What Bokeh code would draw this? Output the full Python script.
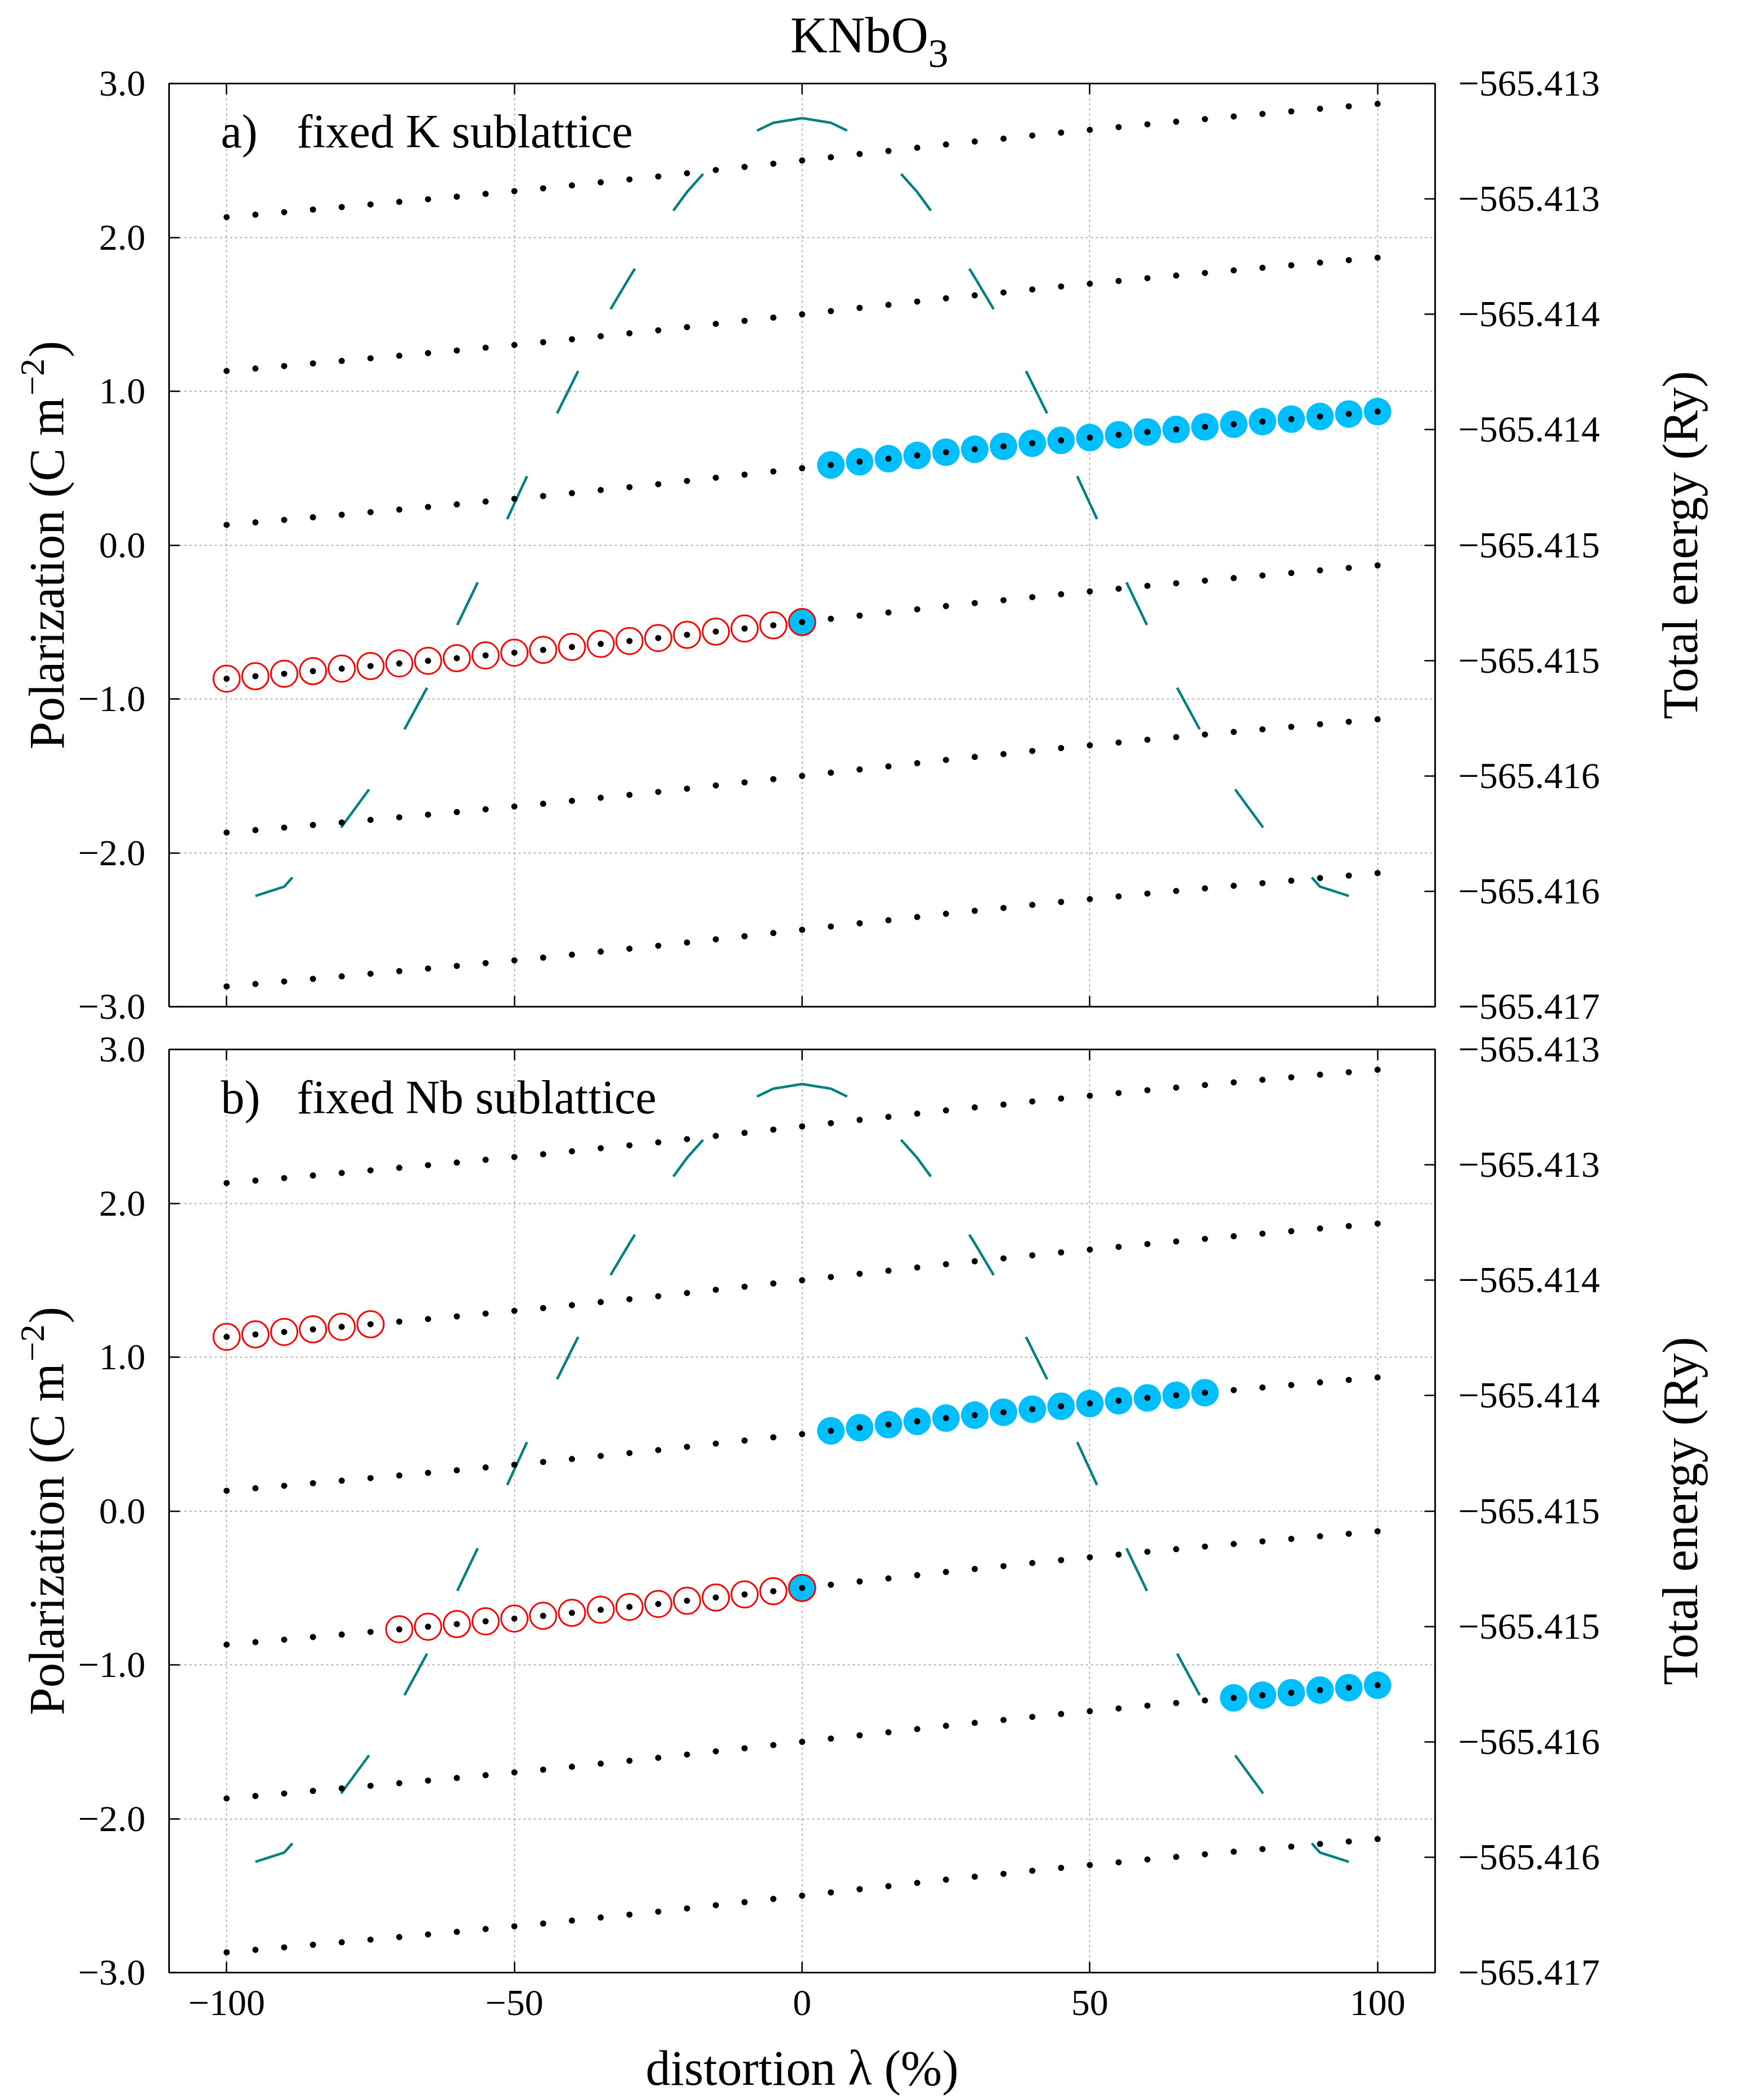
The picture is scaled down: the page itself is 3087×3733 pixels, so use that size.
import math

from bokeh.embed import file_html
from bokeh.layouts import column, row
from bokeh.models import FixedTicker, Grid, Label, LinearAxis, Range1d
from bokeh.plotting import figure
from bokeh.resources import INLINE

# ---------------------------------------------------------------- data
# distortion lambda (%) of the computed structures
lam = [-100, -95, -90, -85, -80, -75, -70, -65, -60, -55, -50,
       -45, -40, -35, -30, -25, -20, -15, -10, -5, 0,
       5, 10, 15, 20, 25, 30, 35, 40, 45, 50,
       55, 60, 65, 70, 75, 80, 85, 90, 95, 100]

# Berry-phase polarization (C m^-2) on the branch that passes through +0.5 at lambda = 0
base_branch = [0.132, 0.148, 0.164, 0.181, 0.197, 0.214, 0.231, 0.248, 0.265, 0.283, 0.301,
               0.319, 0.338, 0.358, 0.377, 0.396, 0.417, 0.438, 0.458, 0.479, 0.500,
               0.521, 0.542, 0.562, 0.583, 0.604, 0.623, 0.642, 0.662, 0.681, 0.699,
               0.717, 0.735, 0.752, 0.769, 0.786, 0.803, 0.819, 0.836, 0.852, 0.868]

# polarization quantum and the branches drawn as the lattice of values
quantum = 1.0
branch_shifts = [-3, -2, -1, 0, 1, 2]

# branch followed by each tracked path: (lambda from, lambda to, branch shift)
red_path_a = [(-100, 0, -1)]
blue_path_a = [(0, 0, -1), (5, 100, 0)]
red_path_b = [(-100, -75, 1), (-70, 0, -1)]
blue_path_b = [(0, 0, -1), (5, 70, 0), (75, 100, -2)]

# total energy (Ry) along the distortion path
energy_lam = [-95, -90, -85, -80, -75, -70, -65, -60, -55, -50,
              -45, -40, -35, -30, -25, -20, -15, -10, -5, 0,
              5, 10, 15, 20, 25, 30, 35, 40, 45, 50,
              55, 60, 65, 70, 75, 80, 85, 90, 95]
energy_ry = [-565.41652, -565.41648, -565.41634, -565.41622, -565.41605, -565.41584,
             -565.41561, -565.41535, -565.41509, -565.41482, -565.41455, -565.41430,
             -565.41405, -565.41384, -565.41364, -565.41347, -565.41333, -565.41323,
             -565.41317, -565.41315,
             -565.41317, -565.41323, -565.41333, -565.41347, -565.41364, -565.41384,
             -565.41405, -565.41430, -565.41455, -565.41482, -565.41509, -565.41535,
             -565.41561, -565.41584, -565.41605, -565.41622, -565.41634, -565.41648,
             -565.41652]

# axes
lam_ticks = [-100, -50, 0, 50, 100]
lam_tick_labels = ["\u2212100", "\u221250", "0", "50", "100"]
pol_ticks = [-3.0, -2.0, -1.0, 0.0, 1.0, 2.0, 3.0]
pol_tick_labels = ["\u22123.0", "\u22122.0", "\u22121.0", "0.0", "1.0", "2.0", "3.0"]
energy_ticks = [-565.4170, -565.4165, -565.4160, -565.4155, -565.4150,
                -565.4145, -565.4140, -565.4135, -565.4130]
energy_tick_labels = ["\u2212565.417", "\u2212565.416", "\u2212565.416", "\u2212565.415",
                      "\u2212565.415", "\u2212565.414", "\u2212565.414", "\u2212565.413",
                      "\u2212565.413"]

# ---------------------------------------------------------------- layout & style
FONT = "Liberation Serif"
FRAME_W, FRAME_H = 2250, 1641
PAD = 4                     # side borders of the plotting panels
HEAD_H = 140                # strip holding the compound name
TITLE_TOP = 148             # space above the upper frame
GAP = 38                    # half of the space between the two frames
FOOT = 227                  # space below the lower frame
POL_W, ENERGY_W = 134, 232  # strips holding the rotated axis titles
LTICK_W, RTICK_W = 162, 301  # strips holding the tick labels
TEAL = "#008080"
SKY = "#00bfff"
RED = "#ff0000"
TICK_PX = 66
LABEL_PX = 88
SUP_PX = 62


def drop(px):
    # distance between the requested and the drawn alphabetic baseline
    return 0.28 * px


def polarization(l, n):
    return base_branch[lam.index(l)] + n * quantum


def follow(segments):
    xs, ys = [], []
    for lo, hi, n in segments:
        for l in lam:
            if lo <= l <= hi:
                xs.append(l)
                ys.append(polarization(l, n))
    return xs, ys


def text(p, x, y, s, px, **kw):
    p.add_layout(Label(x=x, y=y, x_units="screen", y_units="screen", text=s,
                       text_font=FONT, text_font_size=f"{px}px", text_color="black",
                       text_baseline="alphabetic", **kw))


def blank(frame_w, frame_h, left=0, right=0, top=0, bottom=0, y_range=None):
    f = figure(frame_width=frame_w, frame_height=frame_h, title=None,
               min_border_left=left, min_border_right=right,
               min_border_top=top, min_border_bottom=bottom,
               x_range=Range1d(0, 1), y_range=y_range or Range1d(0, 1),
               x_axis_location=None, y_axis_location=None,
               output_backend="svg", toolbar_location=None, tools="")
    f.grid.visible = False
    f.outline_line_color = None
    f.background_fill_color = "white"
    f.border_fill_color = "white"
    return f


def style_axis(ax, labelled, standoff=0):
    ax.axis_line_color = "black"
    ax.axis_line_width = 2.5
    ax.major_tick_in = 19
    ax.major_tick_out = 0
    ax.major_tick_line_color = "black"
    ax.major_tick_line_width = 2.5
    ax.minor_tick_line_color = None
    ax.major_label_text_font = FONT
    if labelled:
        ax.major_label_text_font_size = f"{TICK_PX}px"
        ax.major_label_text_color = "black"
        ax.major_label_standoff = standoff
    else:
        ax.major_label_text_font_size = "1px"
        ax.major_label_text_color = None
        ax.major_label_standoff = 0
    ax.axis_label_text_font = FONT
    ax.axis_label_text_font_size = f"{LABEL_PX}px"
    ax.axis_label_text_font_style = "normal"
    ax.axis_label_text_color = "black"


def panel(tag, caption, red_path, blue_path, border_top, border_bottom, last):
    p = figure(frame_width=FRAME_W, frame_height=FRAME_H, title=None,
               min_border_left=PAD, min_border_right=PAD,
               min_border_top=border_top, min_border_bottom=border_bottom,
               x_range=Range1d(-110, 110), y_range=Range1d(-3, 3),
               x_axis_location=None, y_axis_location=None,
               output_backend="svg", toolbar_location=None, tools="")
    p.grid.visible = False
    p.extra_y_ranges = {"energy": Range1d(energy_ticks[0], energy_ticks[-1])}
    p.outline_line_color = "black"
    p.outline_line_width = 2.5
    p.background_fill_color = "white"
    p.border_fill_color = "white"

    left = LinearAxis(ticker=FixedTicker(ticks=pol_ticks))
    style_axis(left, False)
    p.add_layout(left, "left")

    right = LinearAxis(y_range_name="energy", ticker=FixedTicker(ticks=energy_ticks))
    style_axis(right, False)
    p.add_layout(right, "right")

    below = LinearAxis(ticker=FixedTicker(ticks=lam_ticks),
                       major_label_overrides=dict(zip(lam_ticks, lam_tick_labels)))
    style_axis(below, last, 32)
    if last:
        below.axis_label = "distortion \u03bb (%)"
        below.axis_label_standoff = 43
    p.add_layout(below, "below")

    above = LinearAxis(ticker=FixedTicker(ticks=lam_ticks))
    style_axis(above, False)
    p.add_layout(above, "above")

    for dim, ticks in ((0, lam_ticks), (1, pol_ticks)):
        p.add_layout(Grid(dimension=dim, ticker=FixedTicker(ticks=ticks),
                          grid_line_color="#9a9a9a", grid_line_width=1.5,
                          grid_line_dash="4 5"))

    # total energy, dashed outward from the symmetric configuration
    i0 = energy_lam.index(0)
    p.line(energy_lam[i0::-1], energy_ry[i0::-1], y_range_name="energy",
           line_color=TEAL, line_width=4.5, line_dash="84 124")
    p.line(energy_lam[i0:], energy_ry[i0:], y_range_name="energy",
           line_color=TEAL, line_width=4.5, line_dash="84 124")

    # tracked polarization paths
    bx, by = follow(blue_path)
    p.scatter(bx, by, size=49, marker="circle", fill_color=SKY, line_color=None)
    rx, ry = follow(red_path)
    p.scatter(rx, ry, size=47, marker="circle", fill_color=None,
              line_color=RED, line_width=3)

    # lattice of polarization values
    for n in branch_shifts:
        p.scatter(lam, [b + n * quantum for b in base_branch], size=11,
                  marker="circle", fill_color="black", line_color=None)

    for x, s in ((92, tag), (227, caption)):
        text(p, x, FRAME_H - 85, s, 84)
    return p


def tick_strip(side, rng, ticks, labels, border_top, border_bottom):
    if side == "left":
        f = blank(1, FRAME_H, left=LTICK_W - 1, top=border_top, bottom=border_bottom,
                  y_range=rng)
        standoff = 37
    else:
        f = blank(1, FRAME_H, right=RTICK_W - 1, top=border_top, bottom=border_bottom,
                  y_range=rng)
        standoff = 36
    ax = LinearAxis(ticker=FixedTicker(ticks=ticks),
                    major_label_overrides=dict(zip(ticks, labels)))
    ax.axis_line_color = None
    ax.major_tick_line_color = None
    ax.minor_tick_line_color = None
    ax.major_tick_in = 0
    ax.major_tick_out = 0
    ax.major_label_standoff = standoff
    ax.major_label_text_font = FONT
    ax.major_label_text_font_size = f"{TICK_PX}px"
    ax.major_label_text_color = "black"
    f.add_layout(ax, side)
    return f


def title_strips(border_top, border_bottom):
    height = border_top + FRAME_H + border_bottom
    mid = border_bottom + FRAME_H / 2
    up = math.pi / 2

    # Polarization (C m^-2), read upward, with a raised exponent
    pol = blank(POL_W, height)
    main_len = 7.111 * LABEL_PX
    sup_len = 1.064 * SUP_PX
    close_len = 0.333 * LABEL_PX
    y0 = mid - (main_len + sup_len + close_len + 5) / 2
    base_x = 108
    text(pol, base_x - drop(LABEL_PX), y0, "Polarization (C m", LABEL_PX, angle=up)
    text(pol, base_x - 33 - drop(SUP_PX), y0 + main_len + 3, "\u22122", SUP_PX, angle=up)
    text(pol, base_x - drop(LABEL_PX), y0 + main_len + sup_len + 5, ")", LABEL_PX, angle=up)

    energy = blank(ENERGY_W, height)
    text(energy, 156 - drop(LABEL_PX), mid, "Total energy (Ry)", LABEL_PX, angle=up,
         text_align="center")
    return pol, energy


# compound name over the plotting panels
head = blank(FRAME_W + 2 * PAD, HEAD_H)
x_origin = POL_W + LTICK_W
text(head, 1400 - x_origin, HEAD_H - 87 + drop(92), "KNbO", 92)
text(head, 1645 - x_origin, HEAD_H - 115 + drop(72), "3", 72)

top = panel("a)", "fixed K sublattice", red_path_a, blue_path_a,
            TITLE_TOP - HEAD_H, GAP, False)
bottom = panel("b)", "fixed Nb sublattice", red_path_b, blue_path_b, GAP, FOOT, True)

pol_a, energy_a = title_strips(TITLE_TOP, GAP)
pol_b, energy_b = title_strips(GAP, FOOT)
ltick_a = tick_strip("left", Range1d(-3, 3), pol_ticks, pol_tick_labels, TITLE_TOP, GAP)
ltick_b = tick_strip("left", Range1d(-3, 3), pol_ticks, pol_tick_labels, GAP, FOOT)
rtick_a = tick_strip("right", Range1d(energy_ticks[0], energy_ticks[-1]), energy_ticks,
                     energy_tick_labels, TITLE_TOP, GAP)
rtick_b = tick_strip("right", Range1d(energy_ticks[0], energy_ticks[-1]), energy_ticks,
                     energy_tick_labels, GAP, FOOT)

layout = row(column(pol_a, pol_b), column(ltick_a, ltick_b),
             column(head, top, bottom),
             column(rtick_a, rtick_b), column(energy_a, energy_b))
with open("out.html", "w") as fh:
    fh.write(file_html(layout, INLINE))
